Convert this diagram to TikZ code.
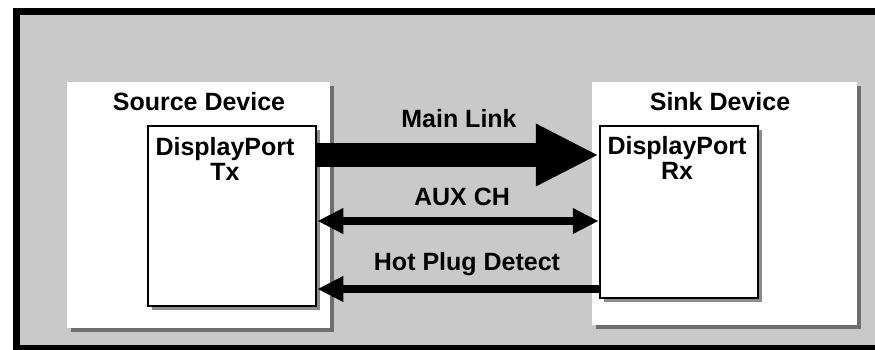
\documentclass[tikz,border=0pt]{standalone}
\usepackage{fontspec}
\setmainfont{Liberation Sans}
\usetikzlibrary{arrows.meta,shadows}
\definecolor{panelgray}{RGB}{201,201,201}
\begin{document}
\begin{tikzpicture}[x=1pt,y=-1pt,
  lbl/.style={font=\fontsize{25}{25}\selectfont\bfseries, inner sep=0pt, align=center},
  boxshadow/.style={drop shadow={shadow xshift=4pt, shadow yshift=-4pt, opacity=0.45, fill=black}},
  devbox/.style={draw=none, fill=white, boxshadow, inner sep=0pt},
  portbox/.style={draw=black, line width=2.5pt, fill=white, boxshadow, inner sep=0pt},
  thinarrow/.style={line width=8pt}
]
\useasboundingbox (0,0) rectangle (875,349);
\clip (0,0) rectangle (875,349);
\fill[white] (0,0) rectangle (875,349);
\draw[line width=7pt, fill=panelgray] (16.5,11.5) rectangle (882,348.5);

% device boxes
\node[devbox, minimum width=263pt, minimum height=246pt] (src) at (198.5,205) {};
\node[devbox, minimum width=265pt, minimum height=243pt] (snk) at (724.5,203.5) {};
\node[portbox, minimum width=168pt, minimum height=180pt] (tx) at (232,216) {};
\node[portbox, minimum width=158pt, minimum height=172pt] (rx) at (679,212) {};

% labels
\node[lbl] (srcl) at (199,101.5) {Source Device};
\node[lbl] (snkl) at (720,101.5) {Sink Device};
\node[lbl] (txl) at (225,159) {DisplayPort\\Tx};
\node[lbl] (rxl) at (677,158) {DisplayPort\\Rx};
\node[lbl] (mll) at (459,118.5) {Main Link};
\node[lbl] (auxl) at (462,196.5) {AUX CH};
\node[lbl] (hpdl) at (467,264) {Hot Plug Detect};

% connector heights
\coordinate (mly) at (0,155);
\coordinate (auxy) at (0,221);
\coordinate (hpdy) at (0,289);

% connectors
\draw[line width=24pt, -{Triangle[length=63pt,width=58pt]}] (tx.east |- mly) -- (rx.west |- mly);
\draw[thinarrow, {Triangle[length=26pt,width=24pt]}-{Triangle[length=26pt,width=24pt]}] (tx.east |- auxy) -- (rx.west |- auxy);
\draw[thinarrow, -{Triangle[length=26pt,width=24pt]}] (rx.west |- hpdy) -- (tx.east |- hpdy);
\end{tikzpicture}
\end{document}
